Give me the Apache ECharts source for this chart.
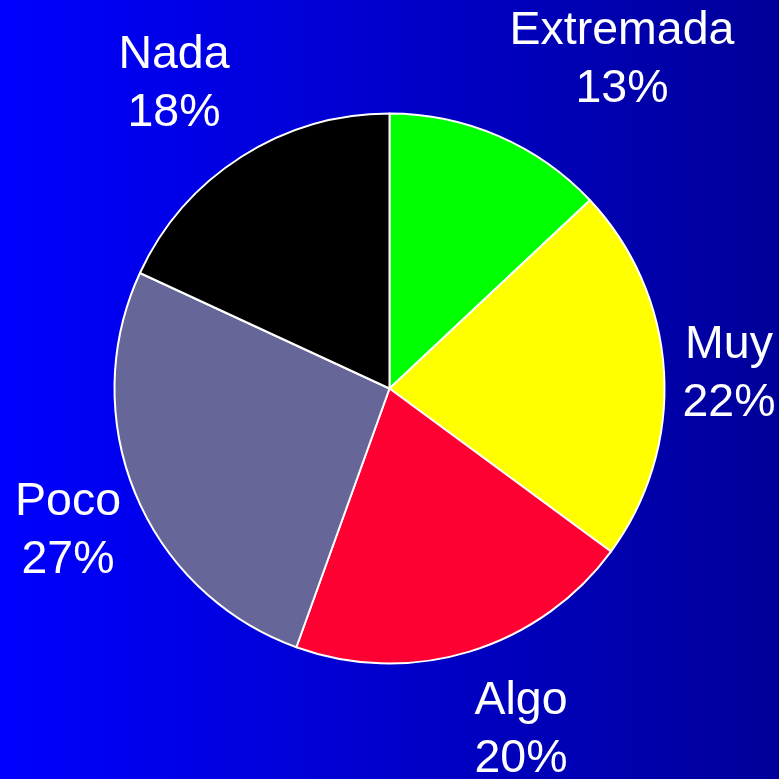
<!DOCTYPE html>
<html>
<head>
<meta charset="utf-8">
<script src="https://cdn.jsdelivr.net/npm/echarts@6/dist/echarts.min.js"></script>
<style>
  html, body { margin: 0; padding: 0; }
  #chart { width: 779px; height: 779px; background: linear-gradient(to right, #0000ff, #000099); }
</style>
</head>
<body>
<div id="chart"></div>
<script>
// data
var categories = ['Extremada', 'Muy', 'Algo', 'Poco', 'Nada'];
var values = [13.0, 22.1, 20.4, 26.4, 18.1];
var pctLabels = ['13%', '22%', '20%', '27%', '18%'];
var sliceColors = ['#00ff00', '#ffff00', '#ff0033', '#666699', '#000000'];

// where each label sits (x, y of block centre)
var labelPos = [[622, 60], [729, 374], [521, 730], [68, 531], [174, 84]];

var chart = echarts.init(document.getElementById('chart'));

var option = {
    backgroundColor: 'transparent',
    animation: false,
    series: [{
        type: 'pie',
        center: [389.5, 388.5],
        radius: [0, 275],
        startAngle: 90,
        clockwise: true,
        data: categories.map(function (name, i) {
            return { name: name, value: values[i], itemStyle: { color: sliceColors[i] } };
        }),
        itemStyle: { borderColor: '#ffffff', borderWidth: 2 },
        label: {
            show: true,
            formatter: function (p) { return p.name + '\n' + pctLabels[p.dataIndex]; },
            color: '#ffffff',
            fontFamily: 'Liberation Sans, Arial, sans-serif',
            fontSize: 46.5,
            lineHeight: 58,
            align: 'center',
            overflow: 'none'
        },
        labelLine: { show: false },
        labelLayout: function (params) {
            var p = labelPos[params.dataIndex];
            return { x: p[0], y: p[1], align: 'center', verticalAlign: 'middle', width: 300 };
        },
        emphasis: { disabled: true }
    }]
};

chart.setOption(option);
</script>
</body>
</html>
